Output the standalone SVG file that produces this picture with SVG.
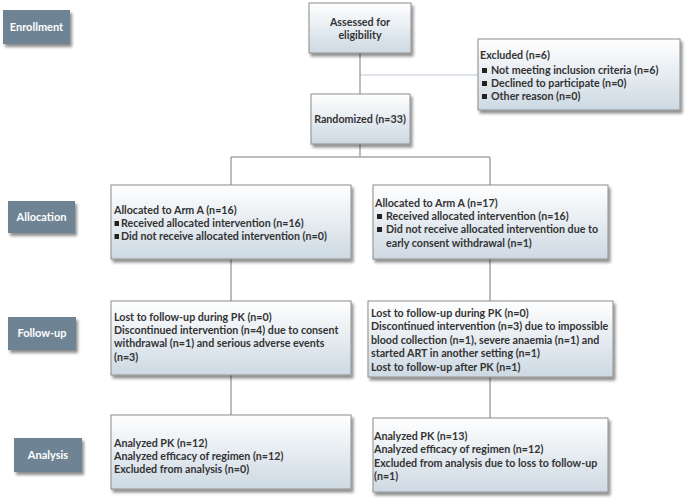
<svg xmlns="http://www.w3.org/2000/svg" width="687" height="500" viewBox="0 0 687 500">
<defs>
<linearGradient id="g" x1="0" y1="0" x2="0" y2="1">
<stop offset="0" stop-color="#ffffff"/>
<stop offset="1" stop-color="#cdd9e3"/>
</linearGradient>
<filter id="sh" x="-10%" y="-10%" width="130%" height="140%">
<feGaussianBlur in="SourceAlpha" stdDeviation="1.5"/>
<feOffset dx="2" dy="3" result="b"/>
<feComponentTransfer><feFuncA type="linear" slope="0.45"/></feComponentTransfer>
<feMerge><feMergeNode/><feMergeNode in="SourceGraphic"/></feMerge>
</filter>
</defs>
<style>
.box{fill:url(#g);stroke:#8c8c8c;stroke-width:1;filter:url(#sh)}
.lab{fill:#6e8494;filter:url(#sh)}
.lt{font-family:Lato,"Open Sans",sans-serif;font-weight:700;font-size:11px;fill:#ffffff;text-anchor:middle}
.t{font-family:Lato,"Open Sans",sans-serif;font-weight:700;font-size:10.7px;fill:#333333}
.c{text-anchor:middle}
.b{fill:#222222}
.con{stroke:#a6a6a6;stroke-width:1.5;fill:none}
.con2{stroke:#d5dde5;stroke-width:1.5;fill:none}
</style>
<g id="connectors">
<line class="con2" x1="360" y1="75" x2="478" y2="75"/>
<line class="con" x1="360" y1="53" x2="360" y2="94"/>
<line class="con" x1="360" y1="144" x2="360" y2="157"/>
<line class="con" x1="231" y1="157" x2="490" y2="157"/>
<line class="con" x1="231" y1="157" x2="231" y2="185"/>
<line class="con" x1="490" y1="157" x2="490" y2="185"/>
<line class="con" x1="231" y1="259" x2="231" y2="301"/>
<line class="con" x1="490" y1="259" x2="490" y2="301"/>
<line class="con" x1="231" y1="375" x2="231" y2="415"/>
<line class="con" x1="490" y1="377" x2="490" y2="418"/>
</g>
<g id="label-enrollment"><rect class="lab" x="3" y="10" width="67" height="34"/><text class="lt" x="36.5" y="31">Enrollment</text></g>
<g id="label-allocation"><rect class="lab" x="8" y="201" width="67" height="32"/><text class="lt" x="41.5" y="221">Allocation</text></g>
<g id="label-followup"><rect class="lab" x="8" y="317" width="68" height="33"/><text class="lt" x="42" y="337">Follow-up</text></g>
<g id="label-analysis"><rect class="lab" x="14" y="438" width="68" height="34"/><text class="lt" x="48" y="459">Analysis</text></g>
<g id="assessed"><rect class="box" x="309" y="3" width="102" height="50"/>
<text class="t c" x="360" y="26">Assessed for</text><text class="t c" x="360" y="39">eligibility</text></g>
<g id="randomized"><rect class="box" x="311" y="94" width="99" height="50"/>
<text class="t c" x="360" y="123">Randomized (n=33)</text></g>
<g id="excluded"><rect class="box" x="478" y="39" width="202" height="71"/>
<text class="t" x="480" y="59">Excluded (n=6)</text>
<rect class="b" x="482" y="68" width="5" height="5"/><text class="t" x="491" y="74">Not meeting inclusion criteria (n=6)</text>
<rect class="b" x="482" y="81" width="5" height="5"/><text class="t" x="491" y="87">Declined to participate (n=0)</text>
<rect class="b" x="482" y="94" width="5" height="5"/><text class="t" x="491" y="100">Other reason (n=0)</text></g>
<g id="alloc-a"><rect class="box" x="111" y="185" width="240" height="74"/>
<text class="t" x="114" y="214">Allocated to Arm A (n=16)</text>
<rect class="b" x="114.5" y="221" width="4.5" height="5"/><text class="t" x="121" y="227">Received allocated intervention (n=16)</text>
<rect class="b" x="114.5" y="234" width="4.5" height="5"/><text class="t" x="121" y="240">Did not receive allocated intervention (n=0)</text></g>
<g id="alloc-b"><rect class="box" x="373" y="185" width="235" height="74"/>
<text class="t" x="375" y="207">Allocated to Arm A (n=17)</text>
<rect class="b" x="377" y="214" width="5" height="5"/><text class="t" x="386" y="220">Received allocated intervention (n=16)</text>
<rect class="b" x="377" y="227" width="5" height="5"/><text class="t" x="386" y="233">Did not receive allocated intervention due to</text>
<text class="t" x="386" y="247">early consent withdrawal (n=1)</text></g>
<g id="follow-a"><rect class="box" x="111" y="301" width="240" height="74"/>
<text class="t" x="114" y="321">Lost to follow-up during PK (n=0)</text>
<text class="t" x="114" y="334">Discontinued intervention (n=4) due to consent</text>
<text class="t" x="114" y="347">withdrawal (n=1) and serious adverse events</text>
<text class="t" x="114" y="361">(n=3)</text></g>
<g id="follow-b"><rect class="box" x="368" y="301" width="245" height="76"/>
<text class="t" x="371" y="317">Lost to follow-up during PK (n=0)</text>
<text class="t" x="371" y="330">Discontinued intervention (n=3) due to impossible</text>
<text class="t" x="371" y="344">blood collection (n=1), severe anaemia (n=1) and</text>
<text class="t" x="371" y="357">started ART in another setting (n=1)</text>
<text class="t" x="371" y="371">Lost to follow-up after PK (n=1)</text></g>
<g id="analysis-a"><rect class="box" x="111" y="415" width="240" height="74"/>
<text class="t" x="114" y="447">Analyzed PK (n=12)</text>
<text class="t" x="114" y="460">Analyzed efficacy of regimen (n=12)</text>
<text class="t" x="114" y="473">Excluded from analysis (n=0)</text></g>
<g id="analysis-b"><rect class="box" x="373" y="418" width="235" height="74"/>
<text class="t" x="374" y="440">Analyzed PK (n=13)</text>
<text class="t" x="374" y="453">Analyzed efficacy of regimen (n=12)</text>
<text class="t" x="374" y="467">Excluded from analysis due to loss to follow-up</text>
<text class="t" x="374" y="480">(n=1)</text></g>
</svg>
